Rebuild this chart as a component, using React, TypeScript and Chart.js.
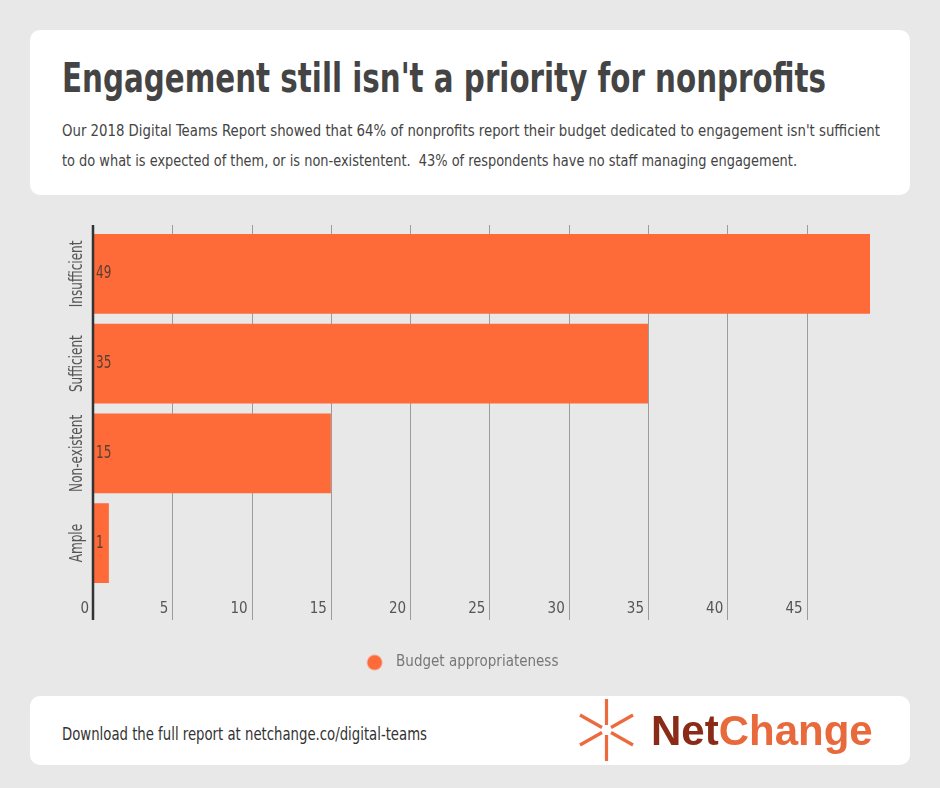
import React, { useEffect, useLayoutEffect, useRef } from "react";
import { Chart, registerables } from "chart.js";

Chart.register(...registerables);

// ---------- data ----------
const categories = ["Insufficient", "Sufficient", "Non-existent", "Ample"];
const values = [49, 35, 15, 1];
const seriesLabel = "Budget appropriateness";
const xTickValues = [0, 5, 10, 15, 20, 25, 30, 35, 40, 45];
const xMin = 0;
const xMax = 49;

const titleText = "Engagement still isn't a priority for nonprofits";
const subtitleLines = [
  "Our 2018 Digital Teams Report showed that 64% of nonprofits report their budget dedicated to engagement isn't sufficient",
  "to do what is expected of them, or is non-existentent.  43% of respondents have no staff managing engagement.",
];
const footerText = "Download the full report at netchange.co/digital-teams";

// ---------- style ----------
const FONT = '"Liberation Sans Narrow", "DejaVu Sans Condensed", "Roboto", sans-serif';
const BAR = "#ff6a39";
const PAGE_BG = "#e7e8e7";
const NARROW = 0.79; // horizontal squeeze for canvas-drawn text

const gridPlugin = {
  id: "customGrid",
  beforeDatasetsDraw(chart: any) {
    const { ctx, chartArea: a, scales } = chart;
    const x = scales.x;
    ctx.save();
    ctx.strokeStyle = "#9c9c9c";
    ctx.lineWidth = 1;
    x.ticks.forEach((t: any) => {
      if (t.value === 0) return;
      const px = Math.round(x.getPixelForValue(t.value)) + 0.5;
      ctx.beginPath();
      ctx.moveTo(px, a.top - 4);
      ctx.lineTo(px, a.bottom + 32);
      ctx.stroke();
    });
    ctx.restore();
  },
  afterDatasetsDraw(chart: any) {
    const { ctx, chartArea: a, scales } = chart;
    const x = scales.x;
    const y = scales.y;
    // value labels
    const meta = chart.getDatasetMeta(0);
    ctx.save();
    ctx.font = `17px ${FONT}`;
    ctx.fillStyle = "#5a3f33";
    ctx.textAlign = "left";
    ctx.textBaseline = "middle";
    meta.data.forEach((bar: any, i: number) => {
      const p = bar.getProps(["base", "y"], true);
      ctx.save();
      ctx.translate(p.base + 3, p.y);
      ctx.scale(NARROW, 1);
      ctx.fillText(String(chart.data.datasets[0].data[i]), 0, 0);
      ctx.restore();
    });
    // zero axis line
    const x0 = x.getPixelForValue(0);
    ctx.strokeStyle = "#333";
    ctx.lineWidth = 2.5;
    ctx.beginPath();
    ctx.moveTo(x0, a.top - 4);
    ctx.lineTo(x0, a.bottom + 32);
    ctx.stroke();
    // rotated category labels
    ctx.font = `17px ${FONT}`;
    ctx.fillStyle = "#555";
    ctx.textAlign = "center";
    ctx.textBaseline = "middle";
    (chart.data.labels as string[]).forEach((lab, i) => {
      const py = y.getPixelForValue(i);
      ctx.save();
      ctx.translate(a.left - 15, py);
      ctx.rotate(-Math.PI / 2);
      ctx.scale(NARROW, 1);
      ctx.fillText(lab, 0, 0);
      ctx.restore();
    });
    ctx.restore();
  },
};

function makeLegendDot(): HTMLCanvasElement {
  const c = document.createElement("canvas");
  c.width = 24;
  c.height = 18;
  const g = c.getContext("2d")!;
  g.fillStyle = BAR;
  g.beginPath();
  g.arc(10, 9, 7.5, 0, Math.PI * 2);
  g.fill();
  return c;
}

function ChartBox() {
  const ref = useRef<HTMLCanvasElement | null>(null);
  useEffect(() => {
    if (!ref.current) return;
    Chart.defaults.font.family = FONT;
    const chart = new Chart(ref.current, {
      type: "bar",
      data: {
        labels: categories,
        datasets: [
          {
            label: seriesLabel,
            data: values,
            backgroundColor: BAR,
            borderWidth: 0,
            barPercentage: 80 / 90,
            categoryPercentage: 1,
          },
        ],
      },
      options: {
        indexAxis: "y",
        animation: false,
        responsive: false,
        maintainAspectRatio: false,
        layout: { padding: { left: 53, right: 70, top: 29, bottom: 10 } },
        scales: {
          x: {
            type: "linear",
            min: xMin,
            max: xMax,
            position: "bottom",
            afterBuildTicks: (s: any) => {
              s.ticks = xTickValues.map((v) => ({ value: v }));
            },
            afterFit: (s: any) => {
              s.height = 57;
            },
            grid: { display: false, drawTicks: false },
            border: { display: false },
            ticks: {
              align: "end",
              labelOffset: -4,
              padding: 12,
              color: "#555",
              font: { size: 15 },
              autoSkip: false,
              maxRotation: 0,
            },
          },
          y: {
            afterFit: (s: any) => {
              s.width = 40;
            },
            grid: { display: false },
            border: { display: false },
            ticks: { display: false },
          },
        },
        plugins: {
          legend: {
            position: "bottom",
            labels: {
              usePointStyle: true,
              pointStyle: makeLegendDot() as any,
              pointStyleWidth: 24,
              color: "#777",
              font: { size: 15 },
              padding: 10,
            },
          },
          tooltip: { enabled: false },
        },
      } as any,
      plugins: [gridPlugin],
    });
    return () => chart.destroy();
  }, []);
  return (
    <canvas
      ref={ref}
      width={940}
      height={490}
      style={{ position: "absolute", left: 0, top: 200, width: 940, height: 490 }}
    />
  );
}

function FitText(props: {
  text: string;
  left: number;
  top: number;
  width: number;
  style: React.CSSProperties;
}) {
  const ref = useRef<HTMLDivElement | null>(null);
  useLayoutEffect(() => {
    const fit = () => {
      const el = ref.current;
      if (!el) return;
      el.style.transform = "none";
      const w = el.getBoundingClientRect().width;
      if (w > 0) el.style.transform = `scaleX(${props.width / w})`;
    };
    fit();
    if ((document as any).fonts && (document as any).fonts.ready) {
      (document as any).fonts.ready.then(fit);
    }
  }, [props.text, props.width]);
  return (
    <div
      ref={ref}
      style={{
        position: "absolute",
        left: props.left,
        top: props.top,
        whiteSpace: "pre",
        transformOrigin: "0 0",
        ...props.style,
      }}
    >
      {props.text}
    </div>
  );
}

export default function App() {
  return (
    <div
      style={{
        position: "absolute",
        left: 0,
        top: 0,
        width: 940,
        height: 788,
        background: PAGE_BG,
        overflow: "hidden",
        fontFamily: FONT,
      }}
    >
      <div
        style={{
          position: "absolute",
          left: 30,
          top: 30,
          width: 880,
          height: 165,
          background: "#fff",
          borderRadius: 10,
        }}
      />
      <FitText
        text={titleText}
        left={62}
        top={57}
        width={764}
        style={{ fontSize: 40, lineHeight: "43px", fontWeight: 700, color: "#444" }}
      />
      {subtitleLines.map((l, i) => (
        <FitText
          key={i}
          text={l}
          left={62}
          top={116 + i * 30}
          width={i === 0 ? 818 : 735}
          style={{ fontSize: 16.5, lineHeight: "30px", color: "#444" }}
        />
      ))}
      <ChartBox />
      <div
        style={{
          position: "absolute",
          left: 30,
          top: 696,
          width: 880,
          height: 69,
          background: "#fff",
          borderRadius: 10,
        }}
      />
      <FitText
        text={footerText}
        left={62}
        top={725}
        width={365}
        style={{ fontSize: 17.5, lineHeight: "18px", color: "#333" }}
      />
      <svg
        width={940}
        height={788}
        style={{ position: "absolute", left: 0, top: 0, pointerEvents: "none" }}
      >
        <g stroke="#ec6a3e" strokeWidth={3.2} strokeLinecap="butt">
          <line x1={606.5} y1={699} x2={606.5} y2={725} />
          <line x1={606.5} y1={735} x2={606.5} y2={761} />
          <line x1={580} y1={715} x2={602} y2={727.5} />
          <line x1={633} y1={715} x2={611} y2={727.5} />
          <line x1={580} y1={745} x2={602} y2={732.5} />
          <line x1={633} y1={745} x2={611} y2={732.5} />
        </g>
        <text
          x={651}
          y={745}
          fontFamily='"Liberation Sans", Arial, sans-serif'
          fontWeight={700}
          fontSize={42}
        >
          <tspan fill="#8a2b17">Net</tspan>
          <tspan fill="#e8693c">Change</tspan>
        </text>
      </svg>
    </div>
  );
}
